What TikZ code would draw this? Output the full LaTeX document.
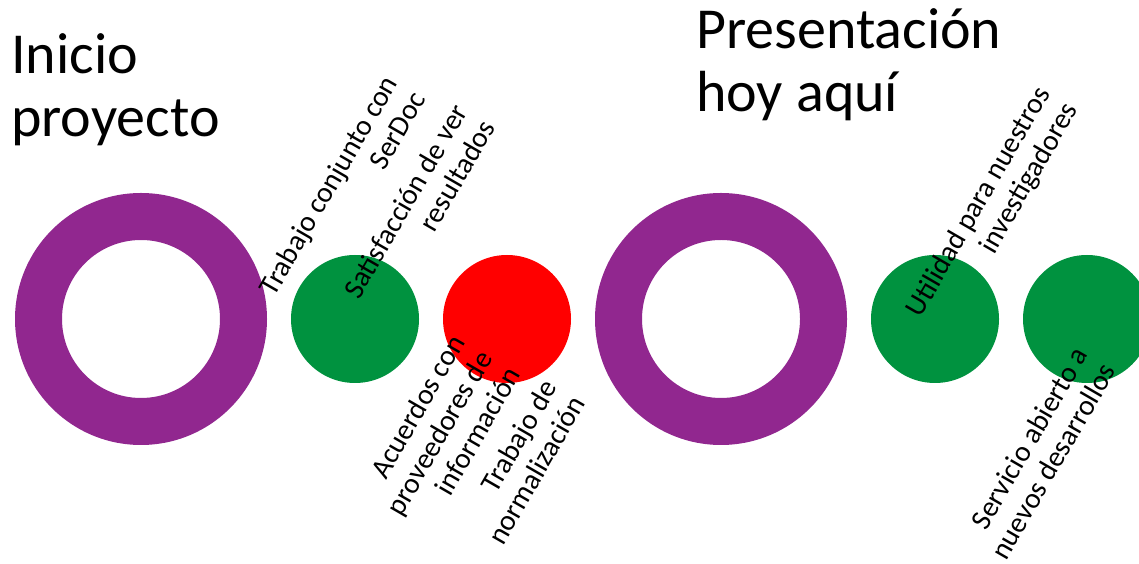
\documentclass[tikz,border=0pt]{standalone}
\usepackage{fontspec}
\setmainfont{Carlito}
\definecolor{ringpurple}{RGB}{145,39,143}
\definecolor{dotgreen}{RGB}{0,146,63}
\definecolor{dotred}{RGB}{255,0,0}
\begin{document}
\begin{tikzpicture}[x=1pt,y=1pt,
  ringshape/.style={fill=ringpurple,even odd rule},
  dot/.style={circle,inner sep=0pt,minimum size=128pt},
  greendot/.style={dot,fill=dotgreen},
  reddot/.style={dot,fill=dotred},
  bigtitle/.style={inner sep=0pt,align=left,font=\fontsize{58}{63}\selectfont},
  slanted/.style={inner sep=0pt,align=right,rotate=60,font=\fontsize{29}{32}\selectfont}]
\useasboundingbox (0,0) rectangle (1139,564);
\clip (0,0) rectangle (1139,564);
% rings
\fill[ringshape] (141,245) circle[radius=126] (141,245) circle[radius=79];
\fill[ringshape] (721,245) circle[radius=126] (721,245) circle[radius=79];
\coordinate (r1) at (141,245);
\coordinate (r2) at (721,245);
% dots
\node[greendot] (g1) at (355,245) {};
\node[reddot] (rd) at (507,245) {};
\node[greendot] (g2) at (935,245) {};
\node[greendot] (g3) at (1087,245) {};
% titles (base anchor = baseline of the last line)
\node[bigtitle,anchor=base west] (t1) at (11,427) {Inicio\\proyecto};
\node[bigtitle,anchor=base west] (t2) at (696,452) {Presentación\\hoy aquí};
% slanted labels
\node[slanted] (la) at (342,371) {Trabajo conjunto con\\SerDoc};
\node[slanted] (lb) at (419,355) {Satisfacción de ver\\resultados};
\node[slanted] (lc) at (439,131) {Acuerdos con\\proveedores de\\información};
\node[slanted] (ld) at (522,102) {Trabajo de\\normalización};
\node[slanted] (le) at (993,354) {Utilidad para nuestros\\investigadores};
\node[slanted] (lf) at (1039,111) {Servicio abierto a\\nuevos desarrollos};
\end{tikzpicture}
\end{document}
